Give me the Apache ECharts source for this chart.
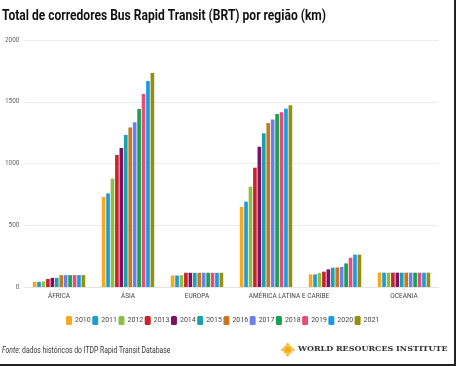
<!DOCTYPE html>
<html>
<head>
<meta charset="utf-8">
<script src="https://cdn.jsdelivr.net/npm/echarts@6/dist/echarts.min.js"></script>
<style>html,body{margin:0;padding:0;background:#fff}#c{width:456px;height:366px}</style>
</head>
<body>
<div id="c"></div>
<script>
var regions = ['ÁFRICA', 'ÁSIA', 'EUROPA', 'AMÉRICA LATINA E CARIBE', 'AMÉRICA DO NORTE', 'OCEANIA'];
var years = ['2010','2011','2012','2013','2014','2015','2016','2017','2018','2019','2020','2021'];
var colors = ['#F5A91C','#1F9BD0','#8DC042','#CC2229','#7C1166','#17A2AE','#C8761F','#6C80EC','#17A04F','#E64C78','#1A9AE0','#958F10'];
// values per year: [Africa, Asia, Europe, LatAm, NorthAm, Oceania]
var v2010 = [42, 729, 93, 648, 102, 116];
var v2011 = [42, 758, 93, 691, 102, 116];
var v2012 = [45, 877, 95, 812, 113, 116];
var v2013 = [65, 1069, 115, 966, 124, 116];
var v2014 = [74, 1125, 115, 1136, 143, 116];
var v2015 = [74, 1231, 115, 1244, 156, 116];
var v2016 = [96, 1292, 115, 1328, 158, 116];
var v2017 = [96, 1333, 115, 1357, 162, 116];
var v2018 = [96, 1441, 115, 1401, 191, 116];
var v2019 = [96, 1563, 115, 1414, 237, 116];
var v2020 = [96, 1668, 115, 1444, 262, 116];
var v2021 = [96, 1733, 115, 1471, 262, 116];
var yTicks = [0, 500, 1000, 1500, 2000];
var seriesValues = [v2010,v2011,v2012,v2013,v2014,v2015,v2016,v2017,v2018,v2019,v2020,v2021];

var FONT = "Roboto, sans-serif";
var titleText = 'Total de corredores Bus Rapid Transit (BRT) por região (km)';
var srcText = 'Fonte: dados históricos do ITDP Rapid Transit Database';
var ctx = document.createElement('canvas').getContext('2d');
ctx.font = 'bold 15px Roboto';
var titleScale = 324 / ctx.measureText(titleText).width;
ctx.font = '9px Roboto';
var srcScale = 169 / ctx.measureText(srcText).width;

var chart = echarts.init(document.getElementById('c'), null, {renderer:'canvas'});
var series = years.map(function(y, i){
  return {
    name: y, type: 'bar', data: seriesValues[i],
    barGap: '22%', barCategoryGap: '24%',
    itemStyle: {color: colors[i]}
  };
});
chart.setOption({
  animation: false,
  color: colors,
  grid: {left: 24.5, right: 17.5, top: 40, bottom: 79},
  xAxis: {
    type: 'category', data: regions,
    axisLine: {lineStyle: {color: '#e3e3e3'}},
    axisTick: {show: true, alignWithLabel: true, length: 3, lineStyle: {color: '#e3e3e3'}},
    axisLabel: {
      interval: function(i){ return i !== 4; },
      formatter: function(v, i){ return i === 3 ? '{s|' + v + '}' : v; },
      rich: {s: {padding: [0,0,0,46], fontFamily: FONT, fontSize: 6.5, color: '#444'}},
      fontFamily: FONT, fontSize: 6.5, color: '#444', margin: 6
    }
  },
  yAxis: {
    type: 'value', min: yTicks[0], max: yTicks[yTicks.length-1], interval: 500,
    axisLine: {show: false}, axisTick: {show: false},
    splitLine: {lineStyle: {color: '#ececec'}},
    axisLabel: {fontFamily: FONT, fontSize: 6.5, color: '#666', margin: 5,
      formatter: function(v){ return String(v); }}
  },
  legend: {
    data: years, bottom: 41, left: 66, padding: 0,
    itemWidth: 6, itemHeight: 9, itemGap: 1.5, icon: 'roundRect',
    textStyle: {fontFamily: FONT, fontSize: 7, color: '#444', padding: [0,0,0,-2]}
  },
  series: series,
  graphic: [
    {type: 'text', left: 2, top: 9, scaleX: titleScale,
     style: {text: titleText, fontFamily: FONT, fontWeight: 'bold', fontSize: 15, fill: '#111'}},
    {type: 'text', left: 2, top: 346, scaleX: srcScale,
     style: {text: '{i|Fonte:} dados históricos do ITDP Rapid Transit Database',
       rich: {i: {fontStyle: 'italic', fontFamily: FONT, fontSize: 9, fill: '#333'}},
       fontFamily: FONT, fontSize: 9, fill: '#333'}},
    {type: 'group', left: 281, top: 343, children: [
      {type: 'circle', shape: {cx: 6, cy: 6, r: 5}, style: {fill: '#F8C84A'}},
      {type: 'circle', shape: {cx: 6, cy: 6, r: 3}, style: {fill: '#F3A81E'}},
      {type: 'circle', shape: {cx: 6, cy: 0.5, r: 1.3}, style: {fill: '#F3B535'}},
      {type: 'circle', shape: {cx: 6, cy: 11.5, r: 1.3}, style: {fill: '#F3B535'}},
      {type: 'circle', shape: {cx: 0.5, cy: 6, r: 1.3}, style: {fill: '#F3B535'}},
      {type: 'circle', shape: {cx: 11.5, cy: 6, r: 1.3}, style: {fill: '#F3B535'}}
    ]},
    {type: 'text', left: 298, top: 345,
     style: {text: 'WORLD RESOURCES INSTITUTE', fontFamily: "'DejaVu Serif','Liberation Serif',serif",
       fontSize: 8, fontWeight: 'bold', fill: '#333'}},
    {type: 'rect', right: 0, top: 0, shape: {width: 2, height: 366}, style: {fill: '#222'}},
    {type: 'rect', left: 0, bottom: 0, shape: {width: 456, height: 2}, style: {fill: '#222'}}
  ]
});
</script>
</body>
</html>
